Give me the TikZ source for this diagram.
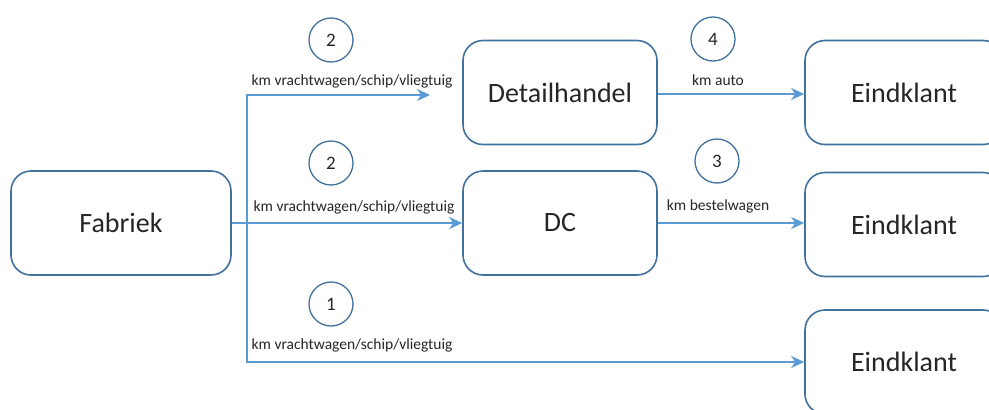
\documentclass[tikz,border=0pt]{standalone}
\usepackage{fontspec}
\setmainfont{Carlito}
\usetikzlibrary{arrows.meta}
\definecolor{boxblue}{HTML}{41719C}
\definecolor{linkblue}{HTML}{5B9BD5}
\definecolor{txt}{HTML}{262626}
\tikzset{
  box/.style={draw=boxblue, line width=1.6pt, rounded corners=20pt, fill=white,
    minimum width=194pt, minimum height=104pt, inner sep=0pt, text=txt,
    font=\fontsize{28}{32}\selectfont},
  num/.style={draw=boxblue, line width=1.3pt, circle, minimum size=44pt, inner sep=0pt,
    text=txt, font=\fontsize{19}{21}\selectfont},
  lbl/.style={text=txt, inner sep=0pt, font=\fontsize{15.5}{17}\selectfont},
  link/.style={draw=linkblue, line width=1.6pt},
  arr/.style={link, -{Stealth[length=13pt, width=12pt, inset=4pt]}}
}
\begin{document}
\begin{tikzpicture}[x=1pt, y=-1pt]
\useasboundingbox (0,0) rectangle (989,410);
\clip (0,0) rectangle (989,410);
% boxes
\node[box, minimum width=220pt] (fab) at (121,223) {Fabriek};
\node[box] (det) at (560,92.5) {Detailhandel};
\node[box] (dc) at (560,223) {DC};
\node[box, minimum width=198pt] (e1) at (904,92.5) {Eindklant};
\node[box, minimum width=198pt] (e2) at (904,224.5) {Eindklant};
\node[box, minimum width=198pt] (e3) at (904,362) {Eindklant};
% numbered circles
\node[num] (n2a) at (331,40) {2};
\node[num] (n2b) at (331,163) {2};
\node[num] (n1) at (331,304) {1};
\node[num] (n4) at (713,39) {4};
\node[num] (n3) at (717,161) {3};
% labels
\node[lbl] (l1) at (352,81) {km vrachtwagen/schip/vliegtuig};
\node[lbl] (l2) at (354,207) {km vrachtwagen/schip/vliegtuig};
\node[lbl] (l3) at (352,345) {km vrachtwagen/schip/vliegtuig};
\node[lbl] (l4) at (718,80) {km auto};
\node[lbl] (l5) at (718,206) {km bestelwagen};
% connectors
\coordinate (j) at (247,223);
\coordinate (topend) at (430,95);
\draw[arr] (fab.east) -- (dc.west);
\draw[arr] (j) |- (topend);
\draw[arr] (j) |- (e3.west);
\draw[arr] (det.east |- 0,94) -- (e1.west |- 0,94);
\draw[arr] (dc.east |- 0,223) -- (e2.west |- 0,223);
\end{tikzpicture}
\end{document}
